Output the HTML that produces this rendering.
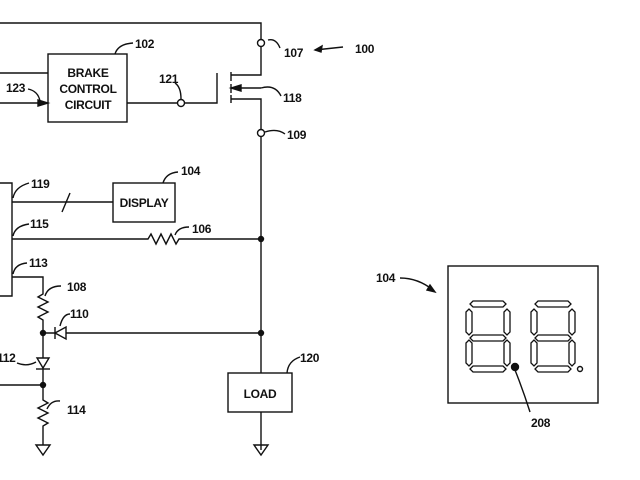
<!DOCTYPE html>
<html><head><meta charset="utf-8"><style>
html,body{margin:0;padding:0;background:#fff}
svg{display:block}
text{font-family:"Liberation Sans",sans-serif;font-size:12px;fill:#111;font-weight:bold;letter-spacing:-0.3px}
</style></head><body>
<svg width="640" height="480" viewBox="0 0 640 480" stroke="#111" stroke-width="1.4" fill="none">
<path d="M0 23H261V75H231"/>
<circle cx="261" cy="43" r="3.5" fill="#fff"/>
<path d="M268 40q8 -2 12 8"/>
<text x="284" y="57" stroke="none">107</text>
<path d="M315 50L343 47"/><path d="M315 50l7 -4l-1 6z" fill="#111"/>
<text x="355" y="53" stroke="none">100</text>
<rect x="48" y="54" width="79" height="68"/>
<text x="88" y="77" text-anchor="middle" stroke="none">BRAKE</text>
<text x="88" y="93" text-anchor="middle" stroke="none">CONTROL</text>
<text x="88" y="109" text-anchor="middle" stroke="none">CIRCUIT</text>
<path d="M115 54q3 -10 18 -11"/>
<text x="135" y="48" stroke="none">102</text>
<path d="M0 73H48"/>
<path d="M0 103H48"/><path d="M48 103l-10 -3v6z" fill="#111"/>
<path d="M28 89q10 2 12 12"/>
<text x="6" y="92" stroke="none">123</text>
<path d="M127 103H177"/><circle cx="181" cy="103" r="3.5" fill="#fff"/>
<path d="M185 103H217V73"/>
<path d="M181 99q0 -12 -6 -16"/>
<text x="159" y="83" stroke="none">121</text>
<path d="M231 72V81M231 84V93M231 95V103"/>
<path d="M231 88H261M231 99H261V450"/>
<path d="M231 88l10 -3v6z" fill="#111"/>
<path d="M261 88q14 -4 20 8"/>
<text x="283" y="102" stroke="none">118</text>
<circle cx="261" cy="133" r="3.5" fill="#fff"/>
<path d="M265 132q12 -4 20 2"/>
<text x="287" y="139" stroke="none">109</text>
<path d="M0 183H12V296H0"/>
<path d="M12 202H113"/><path d="M62 212L70 193"/>
<path d="M13 198q2 -11 16 -15"/>
<text x="31" y="188" stroke="none">119</text>
<rect x="113" y="183" width="62" height="39"/>
<text x="144" y="207" text-anchor="middle" stroke="none">DISPLAY</text>
<path d="M163 183q3 -10 15 -11"/>
<text x="181" y="175" stroke="none">104</text>
<path d="M12 239H148l3 -5l5 10l5 -10l5 10l5 -10l5 10l3 -5H261"/>
<circle cx="261" cy="239" r="2.5" fill="#111"/>
<path d="M13 236q2 -10 16 -12"/>
<text x="30" y="228" stroke="none">115</text>
<path d="M175 235q3 -8 14 -8"/>
<text x="192" y="233" stroke="none">106</text>
<path d="M12 277H43V294l-5 3l10 5l-10 5l10 5l-10 5l5 3V400l5 3l-10 5l10 5l-10 5l10 5l-5 3V445"/>
<path d="M36 445h14l-7 10z"/>
<path d="M13 274q2 -10 14 -11"/>
<text x="29" y="267" stroke="none">113</text>
<path d="M45 296q3 -10 16 -10"/>
<text x="67" y="291" stroke="none">108</text>
<circle cx="43" cy="333" r="2.5" fill="#111"/>
<path d="M43 333H261"/>
<path d="M55 327V339M55 333l11 -6v12z" fill="#fff"/>
<path d="M60 326q3 -12 10 -12"/>
<text x="70" y="318" stroke="none">110</text>
<circle cx="261" cy="333" r="2.5" fill="#111"/>
<path d="M37 358h12l-6 10z" fill="#fff"/><path d="M36 369H50"/>
<path d="M17 363q10 4 19 -1"/>
<text x="-3" y="362" stroke="none">112</text>
<circle cx="43" cy="385" r="2.5" fill="#111"/><path d="M0 385H43"/>
<path d="M47 409q4 -9 13 -8"/>
<text x="67" y="414" stroke="none">114</text>
<rect x="228" y="373" width="64" height="39" fill="#fff"/>
<text x="260" y="398" text-anchor="middle" stroke="none">LOAD</text>
<path d="M287 373q1 -12 13 -16"/>
<text x="300" y="362" stroke="none">120</text>
<path d="M254 445h14l-7 10z"/>
<text x="376" y="282" stroke="none">104</text>
<path d="M400 278q18 0 33 12"/><path d="M435 292l-8 -2l3 -5z" fill="#111"/>
<rect x="448" y="266" width="150" height="137"/>
<g id="d" stroke-width="1.3">
<path d="M473 301h30l3 3l-3 3h-30l-3 -3z"/>
<path d="M473 335h30l3 3l-3 3h-30l-3 -3z"/>
<path d="M473 366h30l3 3l-3 3h-30l-3 -3z"/>
<path d="M466 312l3 -3l3 3v20l-3 3l-3 -3z"/>
<path d="M466 343l3 -3l3 3v20l-3 3l-3 -3z"/>
<path d="M504 312l3 -3l3 3v20l-3 3l-3 -3z"/>
<path d="M504 343l3 -3l3 3v20l-3 3l-3 -3z"/>
</g>
<use href="#d" transform="translate(65 0)"/>
<circle cx="515" cy="367" r="3.5" fill="#111"/>
<circle cx="580" cy="369" r="2.5"/>
<path d="M515 370q8 20 15 42"/>
<text x="531" y="427" stroke="none">208</text>
</svg>
</body></html>
